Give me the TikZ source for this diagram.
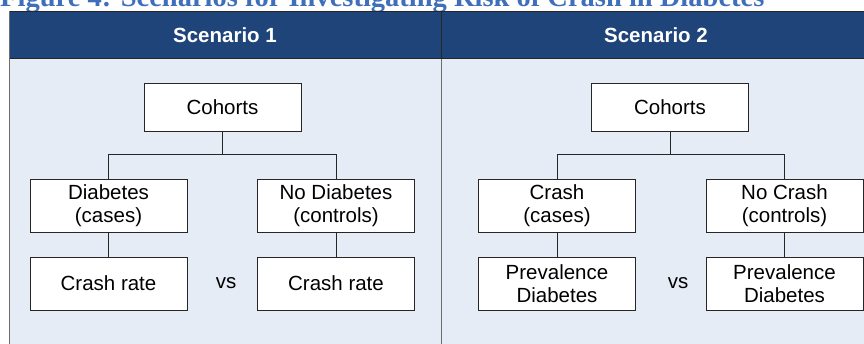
\documentclass[tikz,border=0pt]{standalone}
\usepackage{fontspec}
\setmainfont{Liberation Sans}
\newfontfamily\titlefont{Liberation Serif}
\definecolor{hdr}{HTML}{1F4479}
\definecolor{pane}{HTML}{E6ECF6}
\definecolor{ttl}{HTML}{3F6FBA}
\definecolor{rule}{HTML}{6E6E6E}
\begin{document}
\begin{tikzpicture}[x=1pt,y=-1pt,
  boxnode/.style={draw=black!85, fill=white, line width=0.8pt, minimum width=157pt,
    minimum height=53pt, align=center, inner sep=0pt, font=\fontsize{20.5}{23.5}\selectfont},
  link/.style={draw=black!85, line width=0.8pt},
  hdrtext/.style={text=white, inner sep=0pt, font=\fontsize{20.5}{24}\selectfont\bfseries},
  vsnode/.style={inner sep=0pt, font=\fontsize{20.5}{24}\selectfont}]
\useasboundingbox (0,0) rectangle (864,343);
\clip (0,0) rectangle (864,343);

% caption line above the table
\node[anchor=base west, inner sep=0pt, text=ttl,
  font=\titlefont\fontsize{28.5}{32}\selectfont\bfseries] (title) at (0,6)
  {Figure 4: Scenarios for Investigating Risk of Crash in Diabetes};

% table background and header band
\fill[pane] (9,59) rectangle (870,350);
\fill[hdr] (9,11) rectangle (870,59);
\draw[black!85, line width=1pt] (9,11.5) -- (870,11.5);
\draw[black!85, line width=1pt] (9,58.5) -- (870,58.5);
\draw[rule, line width=1pt] (9.5,11) -- (9.5,350);
\draw[black!85, line width=1pt] (441,11) -- (441,59);
\draw[rule, line width=1pt] (441,59) -- (441,350);

\node[hdrtext] (h1) at (225,35) {Scenario 1};
\node[hdrtext] (h2) at (656,35) {Scenario 2};

% scenario 1
\node[boxnode, minimum height=48pt] (c1) at (222.5,107) {Cohorts};
\node[boxnode] (d1) at (108.5,205.5) {Diabetes\\(cases)};
\node[boxnode] (n1) at (336,205.5) {No Diabetes\\(controls)};
\node[boxnode] (r1) at (108.5,283.5) {Crash rate};
\node[boxnode] (r2) at (336,283.5) {Crash rate};
\node[vsnode] (vs1) at (226,283.5) {vs};

\draw[link] (c1.south) -- ++(0,24);
\draw[link] (d1.north) -- ++(0,-24) -| (n1.north);
\draw[link] (d1.south) -- (r1.north);
\draw[link] (n1.south) -- (r2.north);

% scenario 2
\node[boxnode, minimum height=48pt] (c2) at (670,107) {Cohorts};
\node[boxnode] (d2) at (557,205.5) {Crash\\(cases)};
\node[boxnode] (n2) at (784.5,205.5) {No Crash\\(controls)};
\node[boxnode] (p1) at (557,283.5) {Prevalence\\Diabetes};
\node[boxnode] (p2) at (784.5,283.5) {Prevalence\\Diabetes};
\node[vsnode] (vs2) at (678,283.5) {vs};

\draw[link] (c2.south) -- ++(0,24);
\draw[link] (d2.north) -- ++(0,-24) -| (n2.north);
\draw[link] (d2.south) -- (p1.north);
\draw[link] (n2.south) -- (p2.north);
\end{tikzpicture}
\end{document}
